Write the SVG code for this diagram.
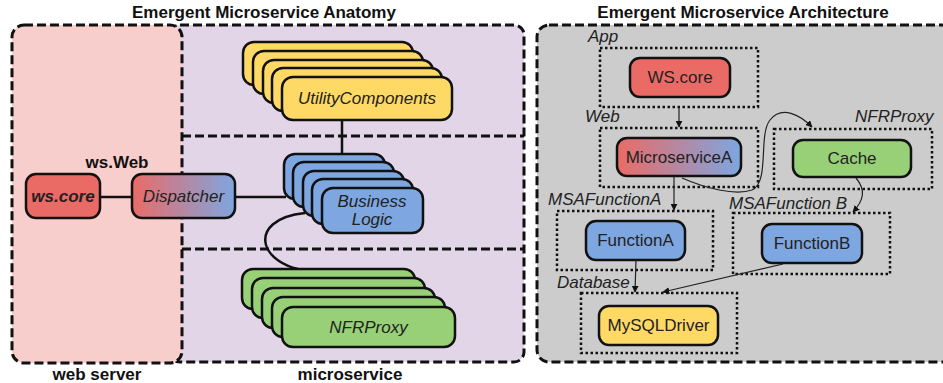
<svg xmlns="http://www.w3.org/2000/svg" width="943" height="383" viewBox="0 0 943 383">
<defs>
<linearGradient id="grad" x1="0" y1="0" x2="1" y2="0">
<stop offset="0" stop-color="#ea6b66"/>
<stop offset="1" stop-color="#7ea6e0"/>
</linearGradient>
<marker id="arr" viewBox="0 0 10 10" refX="9" refY="5" markerWidth="7" markerHeight="7" orient="auto-start-reverse" markerUnits="userSpaceOnUse">
<path d="M0,0 L10,5 L0,10 z" fill="#111"/>
</marker>
<style>
text{font-family:"Liberation Sans",Arial,sans-serif;font-size:17px;fill:#222}
.title{font-weight:bold;fill:#111}
.it{font-style:italic}
.bi{font-style:italic;font-weight:bold}
.area{stroke:#111;stroke-width:3;stroke-dasharray:9 4}
.dot{fill:none;stroke:#111;stroke-width:2.5;stroke-dasharray:2.5 2.5}
.box{stroke:#111;stroke-width:2.5}
.red{fill:#ea6b66}
.blue{fill:#7ea6e0}
.yel{fill:#ffd966}
.grn{fill:#97d077}
.gr{fill:url(#grad)}
.ln{fill:none;stroke:#111;stroke-width:2.5}
.ar{fill:none;stroke:#222;stroke-width:1.2;marker-end:url(#arr)}
</style>
</defs>

<!-- Left panel -->
<g id="anatomy-title"><text class="title" x="264" y="18" text-anchor="middle">Emergent Microservice Anatomy</text></g>
<g id="microservice-area">
<rect class="area" x="170" y="25" width="354" height="337" rx="10" fill="#e1d5e7"/>
<line class="area" x1="182" y1="136" x2="524" y2="136"/>
<line class="area" x1="182" y1="249" x2="524" y2="249"/>
<text class="title" x="350" y="380" text-anchor="middle">microservice</text>
</g>
<g id="web-server-area">
<rect class="area" x="12" y="25" width="170" height="338" rx="12" fill="#f8cecc"/>
<text class="title" x="97" y="380" text-anchor="middle">web server</text>
</g>

<g id="connectors-left">
<line class="ln" x1="342" y1="120" x2="342" y2="156"/>
<line class="ln" x1="100" y1="197" x2="132" y2="197"/>
<line class="ln" x1="235" y1="197" x2="286" y2="197"/>
<path class="ln" d="M305,213 C275,216 262,230 266,245 C270,258 285,266 298,269"/>
</g>

<g id="ws-web">
<text class="title" x="117" y="168" text-anchor="middle">ws.Web</text>
</g>
<g id="ws-core">
<rect class="box red" x="26" y="174" width="74" height="44" rx="10"/>
<text class="bi" x="63" y="202" text-anchor="middle">ws.core</text>
</g>
<g id="dispatcher">
<rect class="box gr" x="132" y="174" width="103" height="44" rx="10"/>
<text class="it" x="183.5" y="202" text-anchor="middle">Dispatcher</text>
</g>

<g id="utility-components">
<rect class="box yel" x="243" y="42" width="170" height="43" rx="11"/>
<rect class="box yel" x="253" y="51" width="170" height="43" rx="11"/>
<rect class="box yel" x="263" y="60" width="170" height="43" rx="11"/>
<rect class="box yel" x="272" y="68" width="170" height="43" rx="11"/>
<rect class="box yel" x="282" y="77" width="170" height="43" rx="11"/>
<text class="it" x="367" y="104" text-anchor="middle">UtilityComponents</text>
</g>

<g id="business-logic">
<rect class="box blue" x="284" y="154" width="101" height="45" rx="11"/>
<rect class="box blue" x="293" y="162" width="101" height="45" rx="11"/>
<rect class="box blue" x="303" y="171" width="101" height="45" rx="11"/>
<rect class="box blue" x="312" y="179" width="101" height="45" rx="11"/>
<rect class="box blue" x="322" y="188" width="101" height="45" rx="11"/>
<text class="it" x="372" y="207" text-anchor="middle">Business</text>
<text class="it" x="372" y="225" text-anchor="middle">Logic</text>
</g>

<g id="nfr-proxy">
<rect class="box grn" x="242" y="269" width="173" height="40" rx="11"/>
<rect class="box grn" x="252" y="278" width="173" height="40" rx="11"/>
<rect class="box grn" x="262" y="288" width="173" height="40" rx="11"/>
<rect class="box grn" x="272" y="297" width="173" height="40" rx="11"/>
<rect class="box grn" x="282" y="307" width="173" height="40" rx="11"/>
<text class="it" x="368.5" y="333" text-anchor="middle">NFRProxy</text>
</g>

<!-- Right panel -->
<g id="architecture-title"><text class="title" x="743" y="18" text-anchor="middle">Emergent Microservice Architecture</text></g>
<g id="architecture-area">
<rect class="area" x="537" y="25" width="420" height="337" rx="12" fill="#cccccc"/>
</g>

<g id="app">
<text class="it" x="588" y="42">App</text>
<rect class="dot" x="600" y="48" width="158" height="59"/>
<rect class="box red" x="630" y="58" width="100" height="39" rx="10"/>
<text x="680" y="83" text-anchor="middle">WS.core</text>
</g>
<g id="web">
<text class="it" x="585" y="122">Web</text>
<rect class="dot" x="600" y="128" width="158" height="59"/>
<rect class="box gr" x="617" y="138" width="124" height="38" rx="10"/>
<text x="679" y="163" text-anchor="middle">MicroserviceA</text>
</g>
<g id="nfrproxy-box">
<text class="it" x="855" y="122">NFRProxy</text>
<rect class="dot" x="774" y="129" width="158" height="60"/>
<rect class="box grn" x="793" y="140" width="118" height="37" rx="10"/>
<text x="852" y="164" text-anchor="middle">Cache</text>
</g>
<g id="msafunctiona">
<text class="it" x="548" y="205">MSAFunctionA</text>
<rect class="dot" x="557" y="211" width="156" height="59"/>
<rect class="box blue" x="586" y="221" width="99" height="39" rx="10"/>
<text x="635.5" y="246" text-anchor="middle">FunctionA</text>
</g>
<g id="msafunctionb">
<text class="it" x="729" y="209">MSAFunction B</text>
<rect class="dot" x="733" y="213" width="157" height="61"/>
<rect class="box blue" x="762" y="224" width="100" height="39" rx="10"/>
<text x="812" y="249" text-anchor="middle">FunctionB</text>
</g>
<g id="database">
<text class="it" x="557" y="288">Database</text>
<rect class="dot" x="581" y="293" width="156" height="60"/>
<rect class="box yel" x="599" y="306" width="119" height="39" rx="10"/>
<text x="658.5" y="331" text-anchor="middle">MySQLDriver</text>
</g>

<g id="connectors-right">
<line class="ar" x1="679" y1="107" x2="679" y2="127"/>
<path class="ar" d="M682,178 C705,188 735,196 752,190 C770,182 758,135 770,120 C782,105 800,115 812,127"/>
<path class="ar" d="M856,178 C866,190 864,200 853,212"/>
<line class="ar" x1="674" y1="177" x2="674" y2="210"/>
<line class="ar" x1="636" y1="260" x2="635" y2="292"/>
<line class="ar" x1="783" y1="264" x2="663" y2="292"/>
</g>
</svg>
